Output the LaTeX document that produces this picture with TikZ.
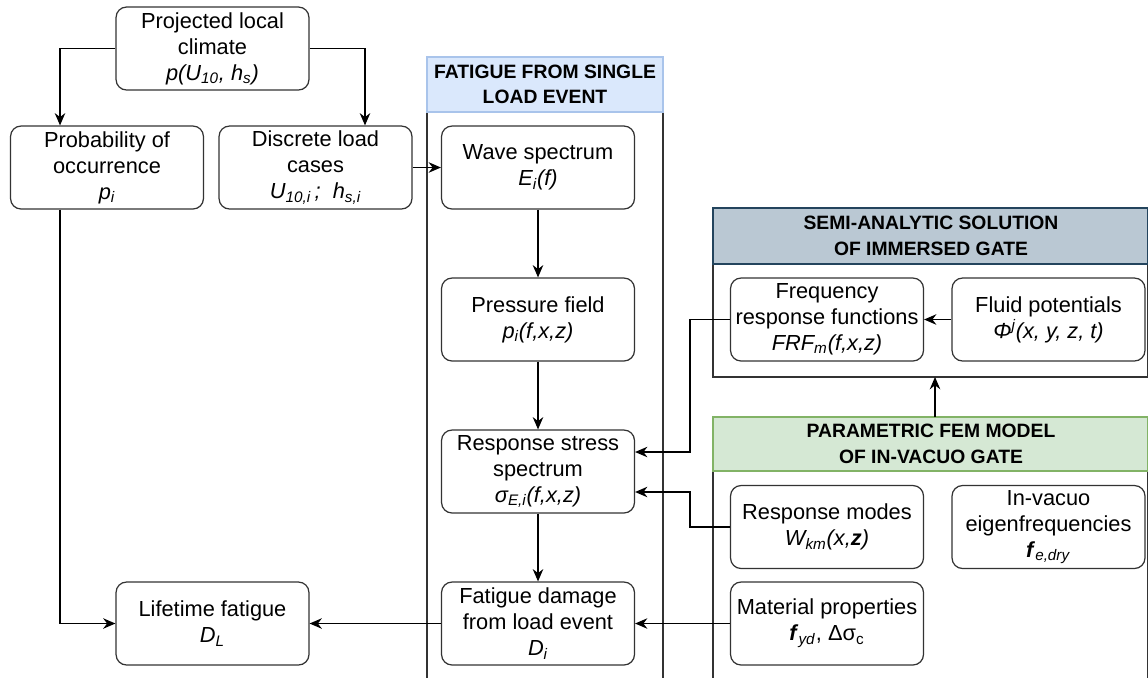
\documentclass[tikz,border=0pt]{standalone}
\usepackage{fontspec}
\setmainfont{Liberation Sans}
\usepackage{tikz}
\usepackage{xcolor}
\usetikzlibrary{arrows.meta, positioning, calc}

\definecolor{hdblue}{HTML}{DAE8FC}
\definecolor{hdblueline}{HTML}{A9C4EB}
\definecolor{hdgrey}{HTML}{BAC8D3}
\definecolor{hdgreyline}{HTML}{23445D}
\definecolor{hdgreen}{HTML}{D5E8D4}
\definecolor{hdgreenline}{HTML}{82B366}
\definecolor{ink}{HTML}{333333}

\begin{document}
\begin{tikzpicture}[x=0.02cm, y=-0.02cm,
  box/.style={draw=ink, line width=0.7pt, rounded corners=6pt, fill=white,
    minimum width=3.86cm, minimum height=1.66cm, inner sep=1pt, align=center,
    font=\fontsize{12.4}{14.8}\selectfont},
  frame/.style={draw=ink, line width=0.8pt},
  head/.style={font=\fontsize{11}{14.6}\selectfont\bfseries, align=center},
  link/.style={draw=black, line width=0.7pt, -{Stealth[length=7pt, width=6pt]}}]
\clip (0,0) rectangle (1148,677);

% Climate and lifetime
\node[box] (clim) at (212.5,48.5) {Projected local\\climate\\\textit{p(U\textsubscript{10}, h\textsubscript{s})}};
\node[box] (prob) at (107,167.5) {Probability of\\occurrence\\\textit{p\textsubscript{i}}};
\node[box] (disc) at (315.5,167.5) {Discrete load\\cases\\\textit{U\textsubscript{10,i}\,;\ \ h\textsubscript{s,i}}};
\node[box] (life) at (212.5,623.5) {Lifetime fatigue\\\textit{D\textsubscript{L}}};

% Fatigue from single load event
\draw[frame] (427,57) rectangle (663,700);
\filldraw[fill=hdblue, draw=hdblueline, line width=0.8pt] (427,57) rectangle (663,112);
\node[head] (hdfat) at (545,84.5) {FATIGUE FROM SINGLE\\LOAD EVENT};
\node[box] (wave) at (538,167.5) {Wave spectrum\\\textit{E\textsubscript{i}(f)}};
\node[box] (press) at (538,319.5) {Pressure field\\\textit{p\textsubscript{i}(f,x,z)}};
\node[box] (stress) at (538,471.5) {Response stress\\spectrum\\\textit{σ\textsubscript{E,i}(f,x,z)}};
\node[box] (dam) at (538,623.5) {Fatigue damage\\from load event\\\textit{D\textsubscript{i}}};

% Semi-analytic solution
\draw[frame] (713,208) rectangle (1148,377);
\filldraw[fill=hdgrey, draw=hdgreyline, line width=0.8pt] (713,208) rectangle (1148,264);
\node[head] (hdsemi) at (931,236) {SEMI-ANALYTIC SOLUTION\\OF IMMERSED GATE};
\node[box] (frf) at (827,319.5) {Frequency\\response functions\\\textit{FRF\textsubscript{m}(f,x,z)}};
\node[box] (fluid) at (1048.5,319.5) {Fluid potentials\\\textit{Φ\textsuperscript{j}(x, y, z, t)}};
\coordinate (semibot) at (935,377);

% Parametric FEM model
\draw[frame] (713,417) rectangle (1148,700);
\filldraw[fill=hdgreen, draw=hdgreenline, line width=0.8pt] (713,417) rectangle (1148,471);
\node[head] (hdfem) at (931,444) {PARAMETRIC FEM MODEL\\OF IN-VACUO GATE};
\node[box] (modes) at (827,527) {Response modes\\\textit{W\textsubscript{km}(x,\textbf{z})}};
\node[box] (eig) at (1048.5,527) {In-vacuo\\eigenfrequencies\\\textbf{\textit{f}}\textsubscript{\textit{e,dry}}};
\node[box] (mat) at (827,623.5) {Material properties\\\textbf{\textit{f}}\textsubscript{\textit{yd}}, Δσ\textsubscript{c}};
\coordinate (femtop) at (935,417);

% connectors
\draw[link] (clim.west) -| ([xshift=-0.94cm]prob.north);
\draw[link] (clim.east) -| ([xshift=0.99cm]disc.north);
\draw[link] ([xshift=-0.94cm]prob.south) |- (life.west);
\draw[link] (disc.east) -- (wave.west);
\draw[link] (wave.south) -- (press.north);
\draw[link] (press.south) -- (stress.north);
\draw[link] (stress.south) -- (dam.north);
\draw[link] (dam.west) -- (life.east);
\draw[link] (fluid.west) -- (frf.east);
\draw[link] (frf.west) -- ++(-40,0) |- ([yshift=0.39cm]stress.east);
\draw[link] (modes.west) -- ++(-40,0) |- ([yshift=-0.41cm]stress.east);
\draw[link] (mat.west) -- (dam.east);
\draw[link] (femtop) -- (semibot);
\end{tikzpicture}
\end{document}
